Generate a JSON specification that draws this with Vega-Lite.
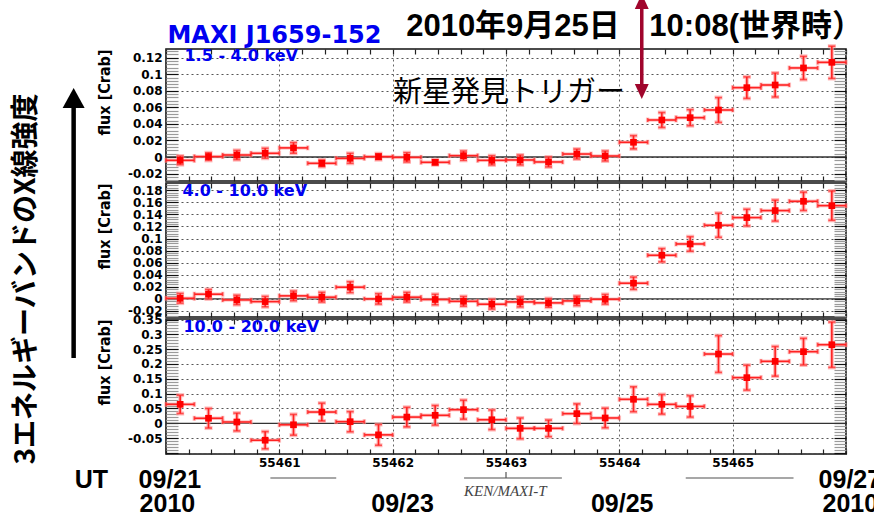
{
  "$schema": "https://vega.github.io/schema/vega-lite/v6.json",
  "padding": {"left": 11, "top": -7, "right": 0, "bottom": 0},
  "background": "white",
  "spacing": 2,
  "bounds": "flush",
  "data": {"values": [
    {"b":1,"t":55460.125,"f":-0.004,"e":0.0052,"dt":0.125},
    {"b":1,"t":55460.375,"f":0.0005,"e":0.0046,"dt":0.125},
    {"b":1,"t":55460.625,"f":0.0024,"e":0.0056,"dt":0.125},
    {"b":1,"t":55460.875,"f":0.0045,"e":0.006,"dt":0.125},
    {"b":1,"t":55461.125,"f":0.011,"e":0.0064,"dt":0.125},
    {"b":1,"t":55461.375,"f":-0.0076,"e":0.004,"dt":0.125},
    {"b":1,"t":55461.625,"f":-0.0016,"e":0.006,"dt":0.125},
    {"b":1,"t":55461.875,"f":0.0004,"e":0.0036,"dt":0.125},
    {"b":1,"t":55462.125,"f":-0.0004,"e":0.0056,"dt":0.125},
    {"b":1,"t":55462.375,"f":-0.0064,"e":0.003,"dt":0.125},
    {"b":1,"t":55462.625,"f":0.0016,"e":0.0056,"dt":0.125},
    {"b":1,"t":55462.875,"f":-0.004,"e":0.0056,"dt":0.125},
    {"b":1,"t":55463.125,"f":-0.0036,"e":0.006,"dt":0.125},
    {"b":1,"t":55463.375,"f":-0.006,"e":0.006,"dt":0.125},
    {"b":1,"t":55463.625,"f":0.0036,"e":0.006,"dt":0.125},
    {"b":1,"t":55463.875,"f":0.0012,"e":0.006,"dt":0.125},
    {"b":1,"t":55464.125,"f":0.0178,"e":0.008,"dt":0.125},
    {"b":1,"t":55464.375,"f":0.0447,"e":0.009,"dt":0.125},
    {"b":1,"t":55464.625,"f":0.0475,"e":0.0097,"dt":0.125},
    {"b":1,"t":55464.875,"f":0.0568,"e":0.015,"dt":0.125},
    {"b":1,"t":55465.125,"f":0.0838,"e":0.013,"dt":0.125},
    {"b":1,"t":55465.375,"f":0.087,"e":0.0145,"dt":0.125},
    {"b":1,"t":55465.625,"f":0.1076,"e":0.014,"dt":0.125},
    {"b":1,"t":55465.875,"f":0.1144,"e":0.0195,"dt":0.125},
    {"b":2,"t":55460.125,"f":0.001,"e":0.008,"dt":0.125},
    {"b":2,"t":55460.375,"f":0.0078,"e":0.0078,"dt":0.125},
    {"b":2,"t":55460.625,"f":-0.0017,"e":0.0078,"dt":0.125},
    {"b":2,"t":55460.875,"f":-0.0045,"e":0.0086,"dt":0.125},
    {"b":2,"t":55461.125,"f":0.005,"e":0.008,"dt":0.125},
    {"b":2,"t":55461.375,"f":0.0028,"e":0.008,"dt":0.125},
    {"b":2,"t":55461.625,"f":0.0194,"e":0.009,"dt":0.125},
    {"b":2,"t":55461.875,"f":0.0,"e":0.0086,"dt":0.125},
    {"b":2,"t":55462.125,"f":0.0028,"e":0.008,"dt":0.125},
    {"b":2,"t":55462.375,"f":-0.001,"e":0.0086,"dt":0.125},
    {"b":2,"t":55462.625,"f":-0.004,"e":0.008,"dt":0.125},
    {"b":2,"t":55462.875,"f":-0.0088,"e":0.008,"dt":0.125},
    {"b":2,"t":55463.125,"f":-0.005,"e":0.0083,"dt":0.125},
    {"b":2,"t":55463.375,"f":-0.0066,"e":0.0072,"dt":0.125},
    {"b":2,"t":55463.625,"f":-0.0033,"e":0.0078,"dt":0.125},
    {"b":2,"t":55463.875,"f":-0.0006,"e":0.008,"dt":0.125},
    {"b":2,"t":55464.125,"f":0.026,"e":0.0102,"dt":0.125},
    {"b":2,"t":55464.375,"f":0.0723,"e":0.011,"dt":0.125},
    {"b":2,"t":55464.625,"f":0.091,"e":0.012,"dt":0.125},
    {"b":2,"t":55464.875,"f":0.122,"e":0.02,"dt":0.125},
    {"b":2,"t":55465.125,"f":0.1347,"e":0.0138,"dt":0.125},
    {"b":2,"t":55465.375,"f":0.1463,"e":0.0174,"dt":0.125},
    {"b":2,"t":55465.625,"f":0.1617,"e":0.0152,"dt":0.125},
    {"b":2,"t":55465.875,"f":0.1545,"e":0.0243,"dt":0.125},
    {"b":3,"t":55460.125,"f":0.064,"e":0.031,"dt":0.125},
    {"b":3,"t":55460.375,"f":0.017,"e":0.033,"dt":0.125},
    {"b":3,"t":55460.625,"f":0.0044,"e":0.03,"dt":0.125},
    {"b":3,"t":55460.875,"f":-0.057,"e":0.029,"dt":0.125},
    {"b":3,"t":55461.125,"f":-0.005,"e":0.035,"dt":0.125},
    {"b":3,"t":55461.375,"f":0.038,"e":0.03,"dt":0.125},
    {"b":3,"t":55461.625,"f":0.0054,"e":0.034,"dt":0.125},
    {"b":3,"t":55461.875,"f":-0.039,"e":0.035,"dt":0.125},
    {"b":3,"t":55462.125,"f":0.021,"e":0.033,"dt":0.125},
    {"b":3,"t":55462.375,"f":0.027,"e":0.033,"dt":0.125},
    {"b":3,"t":55462.625,"f":0.046,"e":0.032,"dt":0.125},
    {"b":3,"t":55462.875,"f":0.012,"e":0.033,"dt":0.125},
    {"b":3,"t":55463.125,"f":-0.017,"e":0.035,"dt":0.125},
    {"b":3,"t":55463.375,"f":-0.017,"e":0.028,"dt":0.125},
    {"b":3,"t":55463.625,"f":0.0325,"e":0.033,"dt":0.125},
    {"b":3,"t":55463.875,"f":0.018,"e":0.033,"dt":0.125},
    {"b":3,"t":55464.125,"f":0.081,"e":0.042,"dt":0.125},
    {"b":3,"t":55464.375,"f":0.064,"e":0.033,"dt":0.125},
    {"b":3,"t":55464.625,"f":0.057,"e":0.036,"dt":0.125},
    {"b":3,"t":55464.875,"f":0.2336,"e":0.062,"dt":0.125},
    {"b":3,"t":55465.125,"f":0.154,"e":0.042,"dt":0.125},
    {"b":3,"t":55465.375,"f":0.209,"e":0.05,"dt":0.125},
    {"b":3,"t":55465.625,"f":0.2415,"e":0.045,"dt":0.125},
    {"b":3,"t":55465.875,"f":0.265,"e":0.0765,"dt":0.125}
  ]},
  "vconcat": [
    {
      "width": 680, "height": 132,
      "transform": [{"filter": "datum.b == 1"}],
      "resolve": {"axis": {"x": "independent", "y": "independent"}},
      "layer": [
        {"data": {"values": [{}]}, "mark": {"type": "rule", "color": "#333", "strokeWidth": 1.3},
         "encoding": {"y": {"datum": 0, "type": "quantitative", "scale": {"domain": [-0.029, 0.1305], "nice": false, "zero": false}, "axis": null}}},
        {"mark": {"type": "errorbar", "ticks": true, "size": 8, "thickness": 4, "color": "#ff9c9c", "opacity": 0.7},
         "encoding": {"x": {"field": "t", "type": "quantitative", "axis": null}, "y": {"field": "f", "type": "quantitative", "axis": null}, "yError": {"field": "e"}}},
        {"mark": {"type": "errorbar", "ticks": true, "size": 5, "thickness": 3.5, "color": "#ff9c9c", "opacity": 0.6},
         "encoding": {"x": {"field": "t", "type": "quantitative", "axis": null}, "xError": {"field": "dt"}, "y": {"field": "f", "type": "quantitative", "axis": null}}},
        {"mark": {"type": "errorbar", "ticks": true, "size": 7, "thickness": 1.6, "color": "#ff2222"},
         "encoding": {
           "x": {"field": "t", "type": "quantitative", "scale": {"domain": [55460, 55466], "nice": false, "zero": false},
                 "axis": {"orient": "bottom", "values": [55460,55460.2,55460.4,55460.6,55460.8,55461,55461.2,55461.4,55461.6,55461.8,55462,55462.2,55462.4,55462.6,55462.8,55463,55463.2,55463.4,55463.6,55463.8,55464,55464.2,55464.4,55464.6,55464.8,55465,55465.2,55465.4,55465.6,55465.8,55466],
                          "labels": false, "title": null, "tickSize": -5, "tickColor": "#222", "grid": true,
                          "gridOpacity": {"condition": {"test": "abs(datum.value - round(datum.value)) < 0.01", "value": 1}, "value": 0},
                          "gridDash": [2, 3], "gridColor": "#666"}},
           "y": {"field": "f", "type": "quantitative", "scale": {"domain": [-0.029, 0.1305], "nice": false, "zero": false},
                 "axis": {"orient": "left", "values": [-0.028,-0.024,-0.02,-0.016,-0.012,-0.008,-0.004,0,0.004,0.008,0.012,0.016,0.02,0.024,0.028,0.032,0.036,0.04,0.044,0.048,0.052,0.056,0.06,0.064,0.068,0.072,0.076,0.08,0.084,0.088,0.092,0.096,0.1,0.104,0.108,0.112,0.116,0.12,0.124,0.128],
                          "format": "~g",
                          "labelExpr": "abs(datum.value*50 - round(datum.value*50)) < 0.01 ? replace(datum.label, '−', '-') : ''",
                          "labelOverlap": false, "labelFlush": false, "labelBound": false, "labelFontSize": 12, "labelPadding": 16,
                          "tickSize": -12,
                          "tickColor": {"condition": {"test": "abs(datum.value*50 - round(datum.value*50)) < 0.01", "value": "#111"}, "value": "#9a9a9a"},
                          "grid": true,
                          "gridOpacity": {"condition": {"test": "abs(datum.value*50 - round(datum.value*50)) < 0.01", "value": 1}, "value": 0},
                          "gridDash": [2, 3], "gridColor": "#555",
                          "title": "flux [Crab]", "titleFont": "Liberation Sans Narrow, DejaVu Sans Condensed, Liberation Sans", "titleFontSize": 16, "titleFontWeight": "bold", "titleAnchor": "end", "titlePadding": 15, "titleColor": "#000"}},
           "yError": {"field": "e"}
         }},
        {"mark": {"type": "errorbar", "ticks": true, "size": 4, "thickness": 1.6, "color": "#ff2222"},
         "encoding": {
           "x": {"field": "t", "type": "quantitative",
                 "axis": {"orient": "top", "values": [55460,55460.2,55460.4,55460.6,55460.8,55461,55461.2,55461.4,55461.6,55461.8,55462,55462.2,55462.4,55462.6,55462.8,55463,55463.2,55463.4,55463.6,55463.8,55464,55464.2,55464.4,55464.6,55464.8,55465,55465.2,55465.4,55465.6,55465.8,55466],
                          "labels": false, "title": null, "tickSize": -5, "tickColor": "#222", "grid": false}},
           "xError": {"field": "dt"},
           "y": {"field": "f", "type": "quantitative",
                 "axis": {"orient": "right", "values": [-0.028,-0.024,-0.02,-0.016,-0.012,-0.008,-0.004,0,0.004,0.008,0.012,0.016,0.02,0.024,0.028,0.032,0.036,0.04,0.044,0.048,0.052,0.056,0.06,0.064,0.068,0.072,0.076,0.08,0.084,0.088,0.092,0.096,0.1,0.104,0.108,0.112,0.116,0.12,0.124,0.128],
                          "labels": false, "title": null, "tickSize": -12, "grid": false,
                          "tickColor": {"condition": {"test": "abs(datum.value*50 - round(datum.value*50)) < 0.01", "value": "#111"}, "value": "#9a9a9a"}}}
         }},
        {"mark": {"type": "square", "size": 45, "color": "#ff0000", "opacity": 1},
         "encoding": {"x": {"field": "t", "type": "quantitative", "axis": null}, "y": {"field": "f", "type": "quantitative", "axis": null}}},
        {"data": {"values": [{}]}, "mark": {"type": "text", "text": "MAXI J1659-152", "font": "DejaVu Sans", "fontWeight": "bold", "fontSize": 24, "color": "#0000f0", "align": "left", "baseline": "alphabetic"},
         "encoding": {"x": {"datum": 55460.013, "axis": null}, "y": {"datum": 0.1378, "axis": null}}},
        {"data": {"values": [{}]}, "mark": {"type": "text", "text": "1.5 - 4.0 keV", "font": "DejaVu Sans", "fontWeight": "bold", "fontSize": 16, "color": "#0000f0", "align": "left", "baseline": "alphabetic"},
         "encoding": {"x": {"datum": 55460.163, "axis": null}, "y": {"datum": 0.1166, "axis": null}}},
        {"data": {"values": [{}]}, "mark": {"type": "text", "text": "2010年9月25日", "font": "Liberation Sans, Noto Sans CJK JP", "fontWeight": "bold", "fontSize": 31, "color": "#000", "align": "left", "baseline": "alphabetic"},
         "encoding": {"x": {"datum": 55462.119, "axis": null}, "y": {"datum": 0.1462, "axis": null}}},
        {"data": {"values": [{}]}, "mark": {"type": "text", "text": "10:08(世界時）", "font": "Liberation Sans, Noto Sans CJK JP", "fontWeight": "bold", "fontSize": 31, "color": "#000", "align": "left", "baseline": "alphabetic"},
         "encoding": {"x": {"datum": 55464.265, "axis": null}, "y": {"datum": 0.1462, "axis": null}}},
        {"data": {"values": [{}]}, "mark": {"type": "text", "text": "新星発見トリガー", "font": "Noto Sans CJK JP", "fontWeight": "normal", "fontSize": 29, "color": "#000", "align": "left", "baseline": "alphabetic"},
         "encoding": {"x": {"datum": 55462.004, "axis": null}, "y": {"datum": 0.0665, "axis": null}}},
        {"data": {"values": [{}]}, "mark": {"type": "rule", "color": "#a0052c", "strokeWidth": 3.5},
         "encoding": {"x": {"datum": 55464.198, "axis": null}, "y": {"datum": 0.1879, "axis": null}, "y2": {"datum": 0.0852}}},
        {"data": {"values": [{}]}, "mark": {"type": "point", "shape": "M-0.93,-1L0.93,-1L0,1Z", "filled": true, "size": 225, "color": "#a0052c", "opacity": 1},
         "encoding": {"x": {"datum": 55464.198, "axis": null}, "y": {"datum": 0.0792, "axis": null}}},
        {"data": {"values": [{}]}, "mark": {"type": "point", "shape": "M0,-1L0.93,1L-0.93,1Z", "filled": true, "size": 225, "color": "#a0052c", "opacity": 1},
         "encoding": {"x": {"datum": 55464.198, "axis": null}, "y": {"datum": 0.1879, "axis": null}}},
        {"data": {"values": [{}]}, "mark": {"type": "text", "text": "3エネルギーバンドのX線強度", "angle": 270, "font": "Noto Sans CJK JP", "fontWeight": "bold", "fontSize": 28, "color": "#000", "align": "center", "baseline": "middle"},
         "encoding": {"x": {"datum": 55458.771, "axis": null}, "y": {"datum": -0.1474, "axis": null}}},
        {"data": {"values": [{}]}, "mark": {"type": "rule", "color": "#000", "strokeWidth": 4.5},
         "encoding": {"x": {"datum": 55459.185, "axis": null}, "y": {"datum": 0.0616, "axis": null}, "y2": {"datum": -0.2429}}},
        {"data": {"values": [{}]}, "mark": {"type": "point", "shape": "M0,-0.9L1,0.9L-1,0.9Z", "filled": true, "size": 484, "color": "#000", "opacity": 1},
         "encoding": {"x": {"datum": 55459.185, "axis": null}, "y": {"datum": 0.0713, "axis": null}}}
      ]
    },
    {
      "width": 680, "height": 134,
      "transform": [{"filter": "datum.b == 2"}],
      "resolve": {"axis": {"x": "independent", "y": "independent"}},
      "layer": [
        {"data": {"values": [{}]}, "mark": {"type": "rule", "color": "#333", "strokeWidth": 1.3},
         "encoding": {"y": {"datum": 0, "type": "quantitative", "scale": {"domain": [-0.030, 0.192], "nice": false, "zero": false}, "axis": null}}},
        {"mark": {"type": "errorbar", "ticks": true, "size": 8, "thickness": 4, "color": "#ff9c9c", "opacity": 0.7},
         "encoding": {"x": {"field": "t", "type": "quantitative", "axis": null}, "y": {"field": "f", "type": "quantitative", "axis": null}, "yError": {"field": "e"}}},
        {"mark": {"type": "errorbar", "ticks": true, "size": 5, "thickness": 3.5, "color": "#ff9c9c", "opacity": 0.6},
         "encoding": {"x": {"field": "t", "type": "quantitative", "axis": null}, "xError": {"field": "dt"}, "y": {"field": "f", "type": "quantitative", "axis": null}}},
        {"mark": {"type": "errorbar", "ticks": true, "size": 7, "thickness": 1.6, "color": "#ff2222"},
         "encoding": {
           "x": {"field": "t", "type": "quantitative", "scale": {"domain": [55460, 55466], "nice": false, "zero": false},
                 "axis": {"orient": "bottom", "values": [55460,55460.2,55460.4,55460.6,55460.8,55461,55461.2,55461.4,55461.6,55461.8,55462,55462.2,55462.4,55462.6,55462.8,55463,55463.2,55463.4,55463.6,55463.8,55464,55464.2,55464.4,55464.6,55464.8,55465,55465.2,55465.4,55465.6,55465.8,55466],
                          "labels": false, "title": null, "tickSize": -5, "tickColor": "#222", "grid": true,
                          "gridOpacity": {"condition": {"test": "abs(datum.value - round(datum.value)) < 0.01", "value": 1}, "value": 0},
                          "gridDash": [2, 3], "gridColor": "#666"}},
           "y": {"field": "f", "type": "quantitative", "scale": {"domain": [-0.030, 0.192], "nice": false, "zero": false},
                 "axis": {"orient": "left", "values": [-0.028,-0.024,-0.02,-0.016,-0.012,-0.008,-0.004,0,0.004,0.008,0.012,0.016,0.02,0.024,0.028,0.032,0.036,0.04,0.044,0.048,0.052,0.056,0.06,0.064,0.068,0.072,0.076,0.08,0.084,0.088,0.092,0.096,0.1,0.104,0.108,0.112,0.116,0.12,0.124,0.128,0.132,0.136,0.14,0.144,0.148,0.152,0.156,0.16,0.164,0.168,0.172,0.176,0.18,0.184,0.188],
                          "format": "~g",
                          "labelExpr": "abs(datum.value*50 - round(datum.value*50)) < 0.01 ? replace(datum.label, '−', '-') : ''",
                          "labelOverlap": false, "labelFlush": false, "labelBound": false, "labelFontSize": 12, "labelPadding": 16,
                          "tickSize": -12,
                          "tickColor": {"condition": {"test": "abs(datum.value*50 - round(datum.value*50)) < 0.01", "value": "#111"}, "value": "#9a9a9a"},
                          "grid": true,
                          "gridOpacity": {"condition": {"test": "abs(datum.value*50 - round(datum.value*50)) < 0.01", "value": 1}, "value": 0},
                          "gridDash": [2, 3], "gridColor": "#555",
                          "title": "flux [Crab]", "titleFont": "Liberation Sans Narrow, DejaVu Sans Condensed, Liberation Sans", "titleFontSize": 16, "titleFontWeight": "bold", "titleAnchor": "end", "titlePadding": 15, "titleColor": "#000"}},
           "yError": {"field": "e"}
         }},
        {"mark": {"type": "errorbar", "ticks": true, "size": 4, "thickness": 1.6, "color": "#ff2222"},
         "encoding": {
           "x": {"field": "t", "type": "quantitative",
                 "axis": {"orient": "top", "values": [55460,55460.2,55460.4,55460.6,55460.8,55461,55461.2,55461.4,55461.6,55461.8,55462,55462.2,55462.4,55462.6,55462.8,55463,55463.2,55463.4,55463.6,55463.8,55464,55464.2,55464.4,55464.6,55464.8,55465,55465.2,55465.4,55465.6,55465.8,55466],
                          "labels": false, "title": null, "tickSize": -5, "tickColor": "#222", "grid": false}},
           "xError": {"field": "dt"},
           "y": {"field": "f", "type": "quantitative",
                 "axis": {"orient": "right", "values": [-0.028,-0.024,-0.02,-0.016,-0.012,-0.008,-0.004,0,0.004,0.008,0.012,0.016,0.02,0.024,0.028,0.032,0.036,0.04,0.044,0.048,0.052,0.056,0.06,0.064,0.068,0.072,0.076,0.08,0.084,0.088,0.092,0.096,0.1,0.104,0.108,0.112,0.116,0.12,0.124,0.128,0.132,0.136,0.14,0.144,0.148,0.152,0.156,0.16,0.164,0.168,0.172,0.176,0.18,0.184,0.188],
                          "labels": false, "title": null, "tickSize": -12, "grid": false,
                          "tickColor": {"condition": {"test": "abs(datum.value*50 - round(datum.value*50)) < 0.01", "value": "#111"}, "value": "#9a9a9a"}}}
         }},
        {"mark": {"type": "square", "size": 45, "color": "#ff0000", "opacity": 1},
         "encoding": {"x": {"field": "t", "type": "quantitative", "axis": null}, "y": {"field": "f", "type": "quantitative", "axis": null}}},
        {"data": {"values": [{}]}, "mark": {"type": "text", "text": "4.0 - 10.0 keV", "font": "DejaVu Sans", "fontWeight": "bold", "fontSize": 16, "color": "#0000f0", "align": "left", "baseline": "alphabetic"},
         "encoding": {"x": {"datum": 55460.145, "axis": null}, "y": {"datum": 0.1697, "axis": null}}}
      ]
    },
    {
      "width": 680, "height": 135,
      "transform": [{"filter": "datum.b == 3"}],
      "resolve": {"axis": {"x": "independent", "y": "independent"}},
      "layer": [
        {"data": {"values": [{}]}, "mark": {"type": "rule", "color": "#333", "strokeWidth": 1.3},
         "encoding": {"y": {"datum": 0, "type": "quantitative", "scale": {"domain": [-0.1035, 0.3517], "nice": false, "zero": false}, "axis": null}}},
        {"mark": {"type": "errorbar", "ticks": true, "size": 8, "thickness": 4, "color": "#ff9c9c", "opacity": 0.7},
         "encoding": {"x": {"field": "t", "type": "quantitative", "axis": null}, "y": {"field": "f", "type": "quantitative", "axis": null}, "yError": {"field": "e"}}},
        {"mark": {"type": "errorbar", "ticks": true, "size": 5, "thickness": 3.5, "color": "#ff9c9c", "opacity": 0.6},
         "encoding": {"x": {"field": "t", "type": "quantitative", "axis": null}, "xError": {"field": "dt"}, "y": {"field": "f", "type": "quantitative", "axis": null}}},
        {"mark": {"type": "errorbar", "ticks": true, "size": 7, "thickness": 1.6, "color": "#ff2222"},
         "encoding": {
           "x": {"field": "t", "type": "quantitative", "scale": {"domain": [55460, 55466], "nice": false, "zero": false},
                 "axis": {"orient": "bottom", "values": [55460,55460.2,55460.4,55460.6,55460.8,55461,55461.2,55461.4,55461.6,55461.8,55462,55462.2,55462.4,55462.6,55462.8,55463,55463.2,55463.4,55463.6,55463.8,55464,55464.2,55464.4,55464.6,55464.8,55465,55465.2,55465.4,55465.6,55465.8,55466],
                          "labels": true, "title": null, "tickSize": -5, "tickColor": "#222",
                          "labelExpr": "abs(datum.value - round(datum.value)) < 0.01 && datum.value > 55460.5 && datum.value < 55465.5 ? format(datum.value, 'd') : ''",
                          "labelOverlap": false, "labelFlush": false, "labelBound": false, "labelFontSize": 12, "labelPadding": 8,
                          "grid": true,
                          "gridOpacity": {"condition": {"test": "abs(datum.value - round(datum.value)) < 0.01", "value": 1}, "value": 0},
                          "gridDash": [2, 3], "gridColor": "#666"}},
           "y": {"field": "f", "type": "quantitative", "scale": {"domain": [-0.1035, 0.3517], "nice": false, "zero": false},
                 "axis": {"orient": "left", "values": [-0.1,-0.09,-0.08,-0.07,-0.06,-0.05,-0.04,-0.03,-0.02,-0.01,0,0.01,0.02,0.03,0.04,0.05,0.06,0.07,0.08,0.09,0.1,0.11,0.12,0.13,0.14,0.15,0.16,0.17,0.18,0.19,0.2,0.21,0.22,0.23,0.24,0.25,0.26,0.27,0.28,0.29,0.3,0.31,0.32,0.33,0.34,0.35],
                          "format": "~g",
                          "labelExpr": "abs(datum.value*20 - round(datum.value*20)) < 0.01 && datum.value > -0.09 ? replace(datum.label, '−', '-') : ''",
                          "labelOverlap": false, "labelFlush": false, "labelBound": false, "labelFontSize": 12, "labelPadding": 16,
                          "tickSize": -12,
                          "tickColor": {"condition": {"test": "abs(datum.value*20 - round(datum.value*20)) < 0.01", "value": "#111"}, "value": "#9a9a9a"},
                          "grid": true,
                          "gridOpacity": {"condition": {"test": "abs(datum.value*20 - round(datum.value*20)) < 0.01", "value": 1}, "value": 0},
                          "gridDash": [2, 3], "gridColor": "#555",
                          "title": "flux [Crab]", "titleFont": "Liberation Sans Narrow, DejaVu Sans Condensed, Liberation Sans", "titleFontSize": 16, "titleFontWeight": "bold", "titleAnchor": "end", "titlePadding": 15, "titleColor": "#000"}},
           "yError": {"field": "e"}
         }},
        {"mark": {"type": "errorbar", "ticks": true, "size": 4, "thickness": 1.6, "color": "#ff2222"},
         "encoding": {
           "x": {"field": "t", "type": "quantitative",
                 "axis": {"orient": "top", "values": [55460,55460.2,55460.4,55460.6,55460.8,55461,55461.2,55461.4,55461.6,55461.8,55462,55462.2,55462.4,55462.6,55462.8,55463,55463.2,55463.4,55463.6,55463.8,55464,55464.2,55464.4,55464.6,55464.8,55465,55465.2,55465.4,55465.6,55465.8,55466],
                          "labels": false, "title": null, "tickSize": -5, "tickColor": "#222", "grid": false}},
           "xError": {"field": "dt"},
           "y": {"field": "f", "type": "quantitative",
                 "axis": {"orient": "right", "values": [-0.1,-0.09,-0.08,-0.07,-0.06,-0.05,-0.04,-0.03,-0.02,-0.01,0,0.01,0.02,0.03,0.04,0.05,0.06,0.07,0.08,0.09,0.1,0.11,0.12,0.13,0.14,0.15,0.16,0.17,0.18,0.19,0.2,0.21,0.22,0.23,0.24,0.25,0.26,0.27,0.28,0.29,0.3,0.31,0.32,0.33,0.34,0.35],
                          "labels": false, "title": null, "tickSize": -12, "grid": false,
                          "tickColor": {"condition": {"test": "abs(datum.value*20 - round(datum.value*20)) < 0.01", "value": "#111"}, "value": "#9a9a9a"}}}
         }},
        {"mark": {"type": "square", "size": 45, "color": "#ff0000", "opacity": 1},
         "encoding": {"x": {"field": "t", "type": "quantitative", "axis": null}, "y": {"field": "f", "type": "quantitative", "axis": null}}},
        {"data": {"values": [{}]}, "mark": {"type": "text", "text": "10.0 - 20.0 keV", "font": "DejaVu Sans", "fontWeight": "bold", "fontSize": 16, "color": "#0000f0", "align": "left", "baseline": "alphabetic"},
         "encoding": {"x": {"datum": 55460.154, "axis": null}, "y": {"datum": 0.3078, "axis": null}}},
        {"data": {"values": [{}]}, "mark": {"type": "rule", "color": "#8a8a8a", "strokeWidth": 1.5},
         "encoding": {"x": {"datum": 55460.921, "axis": null}, "x2": {"datum": 55461.502}, "y": {"datum": -0.1844, "axis": null}}},
        {"data": {"values": [{}]}, "mark": {"type": "rule", "color": "#8a8a8a", "strokeWidth": 1.5},
         "encoding": {"x": {"datum": 55462.630, "axis": null}, "x2": {"datum": 55463.493}, "y": {"datum": -0.1844, "axis": null}}},
        {"data": {"values": [{}]}, "mark": {"type": "rule", "color": "#8a8a8a", "strokeWidth": 1.5},
         "encoding": {"x": {"datum": 55464.586, "axis": null}, "x2": {"datum": 55465.537}, "y": {"datum": -0.1844, "axis": null}}},
        {"data": {"values": [{}]}, "mark": {"type": "rule", "color": "#555", "strokeWidth": 1.2},
         "encoding": {"x": {"datum": 55463.0, "axis": null}, "y": {"datum": -0.1642, "axis": null}, "y2": {"datum": -0.1844}}},
        {"data": {"values": [{}]}, "mark": {"type": "text", "text": "KEN/MAXI-T", "font": "Liberation Serif", "fontStyle": "italic", "fontSize": 15, "color": "#444", "align": "left", "baseline": "alphabetic"},
         "encoding": {"x": {"datum": 55462.630, "axis": null}, "y": {"datum": -0.2451, "axis": null}}},
        {"data": {"values": [{}]}, "mark": {"type": "text", "text": "UT", "font": "Liberation Sans", "fontWeight": "bold", "fontSize": 25, "color": "#000", "align": "left", "baseline": "alphabetic"},
         "encoding": {"x": {"datum": 55459.194, "axis": null}, "y": {"datum": -0.2181, "axis": null}}},
        {"data": {"values": [{}]}, "mark": {"type": "text", "text": "09/21", "font": "Liberation Sans", "fontWeight": "bold", "fontSize": 25, "color": "#000", "align": "left", "baseline": "alphabetic"},
         "encoding": {"x": {"datum": 55459.758, "axis": null}, "y": {"datum": -0.2181, "axis": null}}},
        {"data": {"values": [{}]}, "mark": {"type": "text", "text": "2010", "font": "Liberation Sans", "fontWeight": "bold", "fontSize": 25, "color": "#000", "align": "left", "baseline": "alphabetic"},
         "encoding": {"x": {"datum": 55459.767, "axis": null}, "y": {"datum": -0.2991, "axis": null}}},
        {"data": {"values": [{}]}, "mark": {"type": "text", "text": "09/23", "font": "Liberation Sans", "fontWeight": "bold", "fontSize": 25, "color": "#000", "align": "left", "baseline": "alphabetic"},
         "encoding": {"x": {"datum": 55461.811, "axis": null}, "y": {"datum": -0.2991, "axis": null}}},
        {"data": {"values": [{}]}, "mark": {"type": "text", "text": "09/25", "font": "Liberation Sans", "fontWeight": "bold", "fontSize": 25, "color": "#000", "align": "left", "baseline": "alphabetic"},
         "encoding": {"x": {"datum": 55463.749, "axis": null}, "y": {"datum": -0.2991, "axis": null}}},
        {"data": {"values": [{}]}, "mark": {"type": "text", "text": "09/27", "font": "Liberation Sans", "fontWeight": "bold", "fontSize": 25, "color": "#000", "align": "left", "baseline": "alphabetic"},
         "encoding": {"x": {"datum": 55465.758, "axis": null}, "y": {"datum": -0.2181, "axis": null}}},
        {"data": {"values": [{}]}, "mark": {"type": "text", "text": "2010", "font": "Liberation Sans", "fontWeight": "bold", "fontSize": 25, "color": "#000", "align": "left", "baseline": "alphabetic"},
         "encoding": {"x": {"datum": 55465.793, "axis": null}, "y": {"datum": -0.2991, "axis": null}}}
      ]
    }
  ],
  "config": {
    "view": {"stroke": "#111", "strokeWidth": 1.6},
    "axis": {"labelFont": "DejaVu Sans", "labelFontWeight": "bold", "labelColor": "#000", "domain": false, "tickWidth": 1.2}
  }
}
